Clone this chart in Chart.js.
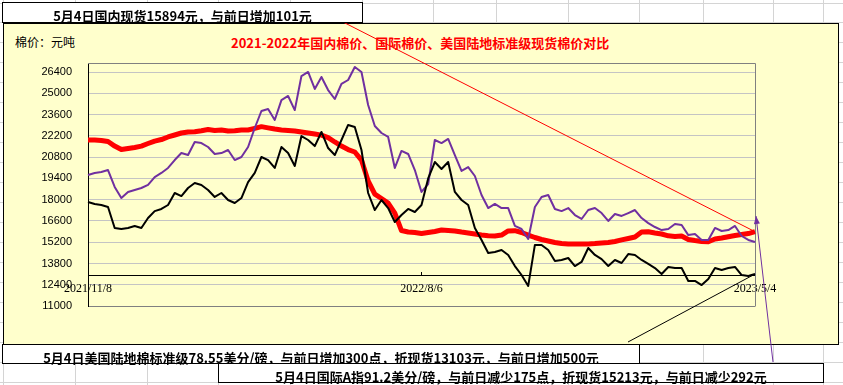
<!DOCTYPE html>
<html>
<head>
<meta charset="utf-8">
<title>棉价对比</title>
<script src="https://cdn.jsdelivr.net/npm/chart.js@4.4.1/dist/chart.umd.min.js"></script>
<style>
  html, body { margin: 0; padding: 0; background: #fff; }
  #sheet { position: relative; width: 843px; height: 385px; overflow: hidden; }
  .gl { position: absolute; background: #d4d4d4; }
  #frame { position: absolute; left: 3px; top: 23px; width: 836px; height: 322px; box-sizing: border-box;
           background: #ffffcc; border: 1px solid #000; }
  #chart { position: absolute; left: 0; top: 0; }
  .note { position: absolute; box-sizing: border-box; background: #fff; border: 1px solid #000;
          text-align: center; white-space: nowrap; color: #000; line-height: 19px; padding-top: 3px;
          font: bold 13px "Noto Sans CJK SC", sans-serif; }
  #title { position: absolute; left: 231px; top: 33px; line-height: 16px; white-space: nowrap; color: #f00;
           font: bold 13px "Noto Sans CJK SC", sans-serif; }
  #unit { position: absolute; left: 15px; top: 33px; line-height: 16px; white-space: nowrap; color: #000;
          font: 12px "Noto Sans CJK SC", sans-serif; }
</style>
</head>
<body>
<div id="sheet">
  <div id="frame"></div>
  <div id="unit">棉价：元吨</div>
  <div id="title">2021-2022年国内棉价、国际棉价、美国陆地标准级现货棉价对比</div>
  <canvas id="chart" width="843" height="385"></canvas>
  <div class="note" style="left:2px;top:2px;width:361px;height:21px;">5月4日国内现货15894元，与前日增加101元</div>
  <div class="note" style="left:2px;top:344px;width:638px;height:20px;">5月4日美国陆地棉标准级78.55美分/磅，与前日增加300点，折现货13103元，与前日增加500元</div>
  <div class="note" style="left:218px;top:363px;width:606px;height:20px;">5月4日国际A指91.2美分/磅，与前日减少175点，折现货15213元，与前日减少292元</div>
</div>
<script>
// dates: 2021/11/8 .. 2023/5/4, sampled evenly
const startDate = new Date(2021, 10, 8);
const spanDays = 542;
const tickLabels = ['2021/11/8', '2022/8/6', '2023/5/4'];
const yTicks = [11000, 12400, 13800, 15200, 16600, 18000, 19400, 20800, 22200, 23600, 25000, 26400];

// 国内现货 (red)
const domesticSpot = [
  21930, 21930, 21900, 21830, 21530, 21300, 21370, 21440, 21530, 21700,
  21860, 21960, 22130, 22260, 22390, 22460, 22470, 22540, 22620, 22560,
  22590, 22520, 22540, 22590, 22590, 22700, 22810, 22730, 22650, 22590,
  22560, 22520, 22460, 22390, 22320, 22250, 22090, 21800, 21530, 21300,
  21140, 20610, 19230, 18370, 18080, 17780, 17120, 15970, 15870, 15840,
  15770, 15840, 15910, 16000, 15970, 15940, 15870, 15810, 15740, 15670,
  15620, 15610, 15670, 15940, 15960, 15840, 15670, 15510, 15380, 15280,
  15180, 15110, 15080, 15080, 15080, 15080, 15110, 15150, 15180, 15250,
  15350, 15440, 15540, 15870, 15890, 15810, 15740, 15620, 15580, 15610,
  15380, 15310, 15250, 15230, 15410, 15480, 15560, 15640, 15710, 15770,
  15894
];
// 国际A指折现货 (purple)
const indexA = [
  19630, 19760, 19820, 19950, 18840, 18110, 18510, 18640, 18770, 18970,
  19490, 19760, 20090, 20610, 21070, 20940, 21800, 21730, 21470, 21010,
  21070, 21270, 20610, 20810, 21470, 22720, 23840, 23970, 23250, 24560,
  24830, 23900, 26140, 26410, 25290, 26080, 25220, 24630, 25620, 25880,
  26740, 26410, 24230, 22850, 22390, 22130, 20090, 21210, 21010, 19950,
  18510, 19030, 21930, 21730, 22000, 20940, 19890, 20150, 19560, 18310,
  17450, 17720, 17450, 17450, 16270, 16070, 15410, 17520, 18180, 18310,
  17390, 17250, 17450, 16990, 16730, 17320, 17450, 17120, 16600, 17060,
  16930, 17120, 17320, 16790, 16460, 16200, 16000, 16070, 16400, 16330,
  15670, 15740, 15350, 15350, 16140, 15940, 16000, 16270, 15610, 15350,
  15213
];
// 美国陆地棉折现货 (black)
const usUpland = [
  17850, 17720, 17650, 17520, 16140, 16070, 16140, 16270, 16140, 16790,
  17250, 17390, 17650, 18440, 18240, 18770, 19100, 18970, 18640, 18180,
  18440, 17980, 17780, 18110, 19160, 19760, 20810, 20610, 20090, 21470,
  21070, 20220, 22190, 21930, 21530, 22460, 21400, 20940, 21930, 22920,
  22790, 21270, 18440, 17320, 17980, 17450, 16530, 16990, 17390, 17190,
  17650, 19400, 20480, 20020, 20480, 18510, 17980, 17650, 16140, 15350,
  14490, 14560, 14690, 14360, 13630, 13040, 12320, 15020, 15020, 14690,
  13960, 14030, 14160, 13630, 13900, 14820, 14360, 14090, 13630, 14030,
  13830, 14420, 14360, 14030, 13770, 13500, 13110, 13570, 13500, 13500,
  12650, 12650, 12380, 12780, 13500, 13370, 13500, 13570, 13040, 12980,
  13103
];

const categories = domesticSpot.map((_, i) => {
  const d = new Date(startDate);
  d.setDate(d.getDate() + Math.round(i * spanDays / (domesticSpot.length - 1)));
  return d.getFullYear() + '/' + (d.getMonth() + 1) + '/' + d.getDate();
});

// spreadsheet cell lines behind everything
const sheet = document.getElementById('sheet');
const colLines = [3, 75, 147, 218, 290, 362, 433, 496, 568, 639, 703, 773, 823];
colLines.forEach(x => {
  const d = document.createElement('div');
  d.className = 'gl';
  d.style.cssText = 'left:' + x + 'px;top:0;width:1px;height:385px;';
  sheet.insertBefore(d, sheet.firstChild);
});
for (let k = 0; k < 20; k++) {
  const d = document.createElement('div');
  d.className = 'gl';
  d.style.cssText = 'left:0;top:' + Math.round(2.5 + 19.97 * k) + 'px;width:843px;height:1px;';
  sheet.insertBefore(d, sheet.firstChild);
}

const framePlugin = {
  id: 'plotFrame',
  beforeDatasetsDraw(chart) {
    const { ctx, chartArea: a } = chart;
    ctx.save();
    ctx.strokeStyle = '#808080';
    ctx.lineWidth = 1;
    ctx.beginPath();
    ctx.moveTo(a.left, a.top + 0.5);
    ctx.lineTo(a.right + 0.5, a.top + 0.5);
    ctx.lineTo(a.right + 0.5, a.bottom + 0.5);
    ctx.stroke();
    ctx.restore();
  }
};

// leader lines from the text boxes to the last points
const calloutPlugin = {
  id: 'callouts',
  afterDatasetsDraw(chart) {
    const ctx = chart.ctx;
    const last = i => { const pts = chart.getDatasetMeta(i).data; return pts[pts.length - 1]; };
    const us = last(0), a = last(1), dom = last(2);
    const seg = (color, x1, y1, x2, y2) => {
      ctx.strokeStyle = color;
      ctx.beginPath();
      ctx.moveTo(x1, y1);
      ctx.lineTo(x2, y2);
      ctx.stroke();
    };
    ctx.save();
    ctx.lineWidth = 1;
    seg('#ff0000', 343, 22, dom.x, dom.y);
    seg('#000000', 628, 342, us.x, us.y);
    const tx = a.x + 1, ty = a.y - 26;
    seg('#7030a0', 773, 362, tx, ty);
    const ang = Math.atan2(ty - 362, tx - 773);
    ctx.fillStyle = '#7030a0';
    ctx.beginPath();
    ctx.moveTo(tx, ty);
    ctx.lineTo(tx - 8 * Math.cos(ang) + 3 * Math.sin(ang), ty - 8 * Math.sin(ang) - 3 * Math.cos(ang));
    ctx.lineTo(tx - 8 * Math.cos(ang) - 3 * Math.sin(ang), ty - 8 * Math.sin(ang) + 3 * Math.cos(ang));
    ctx.closePath();
    ctx.fill();
    ctx.restore();
  }
};

new Chart(document.getElementById('chart'), {
  type: 'line',
  data: {
    labels: categories,
    datasets: [
      { label: '美国陆地棉折现货', data: usUpland, borderColor: '#000000', borderWidth: 2 },
      { label: '国际A指折现货', data: indexA, borderColor: '#7030a0', borderWidth: 2 },
      { label: '国内现货', data: domesticSpot, borderColor: '#ff0000', borderWidth: 5 }
    ]
  },
  options: {
    responsive: false,
    animation: false,
    events: [],
    elements: {
      point: { radius: 0 },
      line: { tension: 0, fill: false, borderJoinStyle: 'round' }
    },
    layout: { padding: { left: 0, top: 63, right: 88, bottom: 79 } },
    plugins: { legend: { display: false }, tooltip: { enabled: false } },
    scales: {
      x: {
        position: { y: 13000 },
        grid: {
          drawOnChartArea: false,
          drawTicks: true,
          tickLength: -4,
          tickColor: c => tickLabels.includes(categories[c.index]) ? '#000' : 'rgba(0,0,0,0)'
        },
        border: { color: '#000', width: 1 },
        ticks: {
          autoSkip: false,
          maxRotation: 0,
          padding: 10,
          color: '#000',
          font: { family: 'Liberation Serif', size: 12 },
          callback: (v, i) => tickLabels.includes(categories[i]) ? categories[i] : ''
        }
      },
      y: {
        min: 11000,
        max: 27000,
        afterBuildTicks: s => { s.ticks = yTicks.map(v => ({ value: v })); },
        afterFit: s => { s.width = 88; },
        grid: {
          drawTicks: false,
          color: c => (c.tick && c.tick.value === 11000) ? '#808080' : '#c4c4c4'
        },
        border: { color: '#000', width: 1 },
        ticks: {
          padding: 16,
          color: '#000',
          font: { family: 'Liberation Sans', size: 11 },
          callback: v => String(v)
        }
      }
    }
  },
  plugins: [framePlugin, calloutPlugin]
});
</script>
</body>
</html>
